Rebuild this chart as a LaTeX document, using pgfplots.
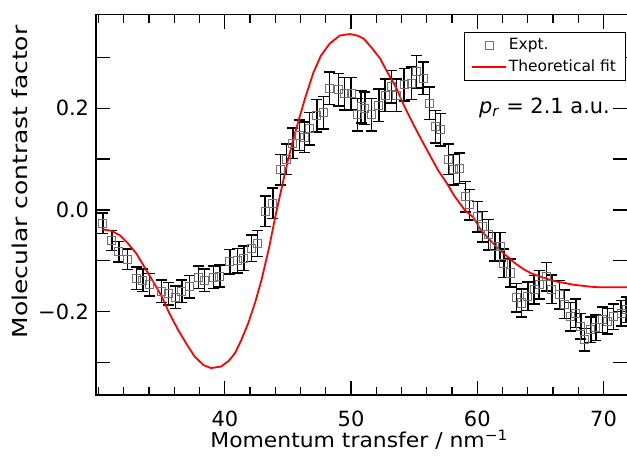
\documentclass[border=0pt]{standalone}
\usepackage{fontspec}
\setmainfont{DejaVu Sans}
\newfontfamily\widey{DejaVu Sans}[FakeStretch=1.22]
\newfontfamily\widex{DejaVu Sans}[FakeStretch=1.07]
\usepackage{pgfplots}
\usepackage{pgfplotstable}
\pgfplotsset{compat=1.18}

% experimental points: x, y, error
\pgfplotstableread{
x y e
30.34 -0.026 0.020
31.05 -0.060 0.020
31.60 -0.082 0.020
32.30 -0.097 0.020
33.00 -0.134 0.022
33.50 -0.138 0.022
34.05 -0.147 0.022
34.97 -0.160 0.022
35.55 -0.165 0.022
36.10 -0.172 0.022
36.60 -0.160 0.022
37.20 -0.151 0.022
37.90 -0.132 0.022
38.40 -0.138 0.022
39.10 -0.132 0.022
39.60 -0.130 0.022
40.40 -0.102 0.024
41.00 -0.100 0.024
41.50 -0.095 0.024
42.10 -0.075 0.026
42.60 -0.066 0.026
43.20 -0.003 0.030
43.80 0.013 0.030
44.40 0.079 0.030
44.90 0.100 0.030
45.40 0.131 0.030
45.90 0.147 0.030
46.30 0.143 0.030
46.70 0.160 0.032
47.30 0.185 0.032
47.80 0.191 0.032
48.30 0.239 0.032
49.00 0.236 0.032
49.50 0.229 0.032
50.00 0.229 0.032
50.50 0.187 0.032
50.80 0.203 0.032
51.10 0.200 0.032
51.60 0.187 0.032
52.20 0.206 0.032
52.70 0.226 0.032
53.20 0.242 0.032
53.60 0.226 0.032
54.20 0.246 0.032
54.80 0.249 0.032
55.20 0.272 0.032
55.70 0.259 0.032
56.20 0.210 0.032
56.70 0.164 0.032
57.10 0.158 0.032
57.70 0.100 0.030
58.10 0.079 0.030
58.60 0.082 0.030
59.05 0.026 0.030
59.40 0.010 0.030
60.00 -0.013 0.030
60.40 -0.033 0.030
60.90 -0.049 0.030
61.40 -0.072 0.028
61.80 -0.072 0.028
62.10 -0.105 0.028
62.60 -0.124 0.028
63.10 -0.173 0.028
63.50 -0.183 0.028
64.00 -0.170 0.028
64.50 -0.157 0.028
64.90 -0.147 0.028
65.50 -0.131 0.028
65.90 -0.156 0.028
66.50 -0.167 0.028
66.90 -0.185 0.028
67.40 -0.210 0.028
67.80 -0.203 0.028
68.20 -0.229 0.025
68.50 -0.255 0.022
69.00 -0.236 0.025
69.40 -0.232 0.025
69.90 -0.216 0.025
70.30 -0.219 0.025
70.80 -0.210 0.025
71.40 -0.203 0.025
71.80 -0.196 0.025
}\expt

% theoretical fit
\pgfplotstableread{
x y
30.3 -0.038
31.0 -0.041
31.7 -0.050
32.3 -0.065
33.0 -0.086
33.6 -0.111
34.3 -0.140
35.0 -0.170
35.6 -0.203
36.3 -0.236
37.0 -0.265
37.6 -0.288
38.3 -0.305
38.9 -0.311
39.7 -0.308
40.3 -0.297
40.8 -0.282
41.3 -0.256
41.85 -0.223
42.4 -0.182
42.9 -0.138
43.5 -0.075
44.0 -0.013
44.5 0.043
45.0 0.098
45.6 0.155
46.3 0.215
47.0 0.269
47.6 0.303
48.3 0.327
49.1 0.343
49.9 0.346
50.5 0.343
51.0 0.337
51.6 0.320
52.3 0.298
52.9 0.270
53.6 0.239
54.2 0.205
54.9 0.170
55.6 0.137
56.3 0.105
56.9 0.078
57.6 0.052
58.2 0.027
59.0 0.000
59.7 -0.015
60.3 -0.040
61.0 -0.059
61.7 -0.077
62.4 -0.092
63.0 -0.105
63.7 -0.117
64.3 -0.125
65.0 -0.131
65.7 -0.137
66.3 -0.141
67.0 -0.144
67.6 -0.147
68.3 -0.149
69.0 -0.151
69.6 -0.152
70.3 -0.152
71.0 -0.152
71.9 -0.152
}\fit

\begin{document}
\fontsize{20.5}{24}\selectfont
\begin{tikzpicture}
\begin{axis}[
    scale only axis,
    width=531bp, height=380bp,
    xmin=29.8, xmax=71.9,
    ymin=-0.364, ymax=0.384,
    axis line style={line width=1.5bp},
    tick align=inside,
    tick style={black, line width=1.3bp},
    major tick length=14bp,
    minor tick length=8bp,
    xtick={40,50,60,70},
    xticklabels={40,50,60,70},
    minor xtick={30,32,...,70},
    ytick={-0.3,-0.2,-0.1,0,0.1,0.2,0.3},
    yticklabels={,−0.2,,0.0,,0.2,},
    ticklabel style={font=\fontsize{21}{24}\selectfont},
    xticklabel style={yshift=-9bp},
    xlabel={\widex Momentum transfer / nm\textsuperscript{−1}},
    ylabel={\widey Molecular contrast factor},
    label style={font=\fontsize{20.5}{24}\selectfont},
    xlabel style={at={(axis description cs:0.495,-0.139)}, anchor=base},
    ylabel style={at={(axis description cs:-0.143,0.56)}, anchor=center},
    legend style={at={(rel axis cs:0.996,0.955)}, anchor=north east,
        draw=black, line width=0.8bp, fill=white,
        font=\fontsize{15.5}{19}\selectfont, inner ysep=4bp, inner xsep=7bp,
        row sep=3bp},
    legend cell align=left,
    legend image code/.code={
        \draw[mark repeat=2, mark phase=2, #1]
        plot coordinates {(0bp,0bp) (17bp,0bp) (34bp,0bp)};},
]
\addplot[only marks, mark=square, mark size=4bp,
    mark options={draw=black!55, line width=1bp, fill=none},
    error bars/.cd, y dir=both, y explicit,
    error bar style={black, line width=1.5bp},
    error mark options={black, rotate=90, mark size=5.5bp, line width=1.5bp}]
    table[x=x, y=y, y error=e] {\expt};
\addlegendentry{Expt.}
\addplot[red, line width=1.8bp, no marks] table[x=x, y=y] {\fit};
\addlegendentry{Theoretical fit}
\node[anchor=east, font=\fontsize{21}{24}\selectfont]
    at (rel axis cs:0.98,0.754) {\textit{p}\textsubscript{\textit{r}} = 2.1 a.u.};
\end{axis}
\pgfresetboundingbox
\path[use as bounding box] ([xshift=-96bp, yshift=-64bp]current axis.south west)
    rectangle ([xshift=-0.5bp, yshift=14.7bp]current axis.north east);
\end{tikzpicture}
\end{document}
